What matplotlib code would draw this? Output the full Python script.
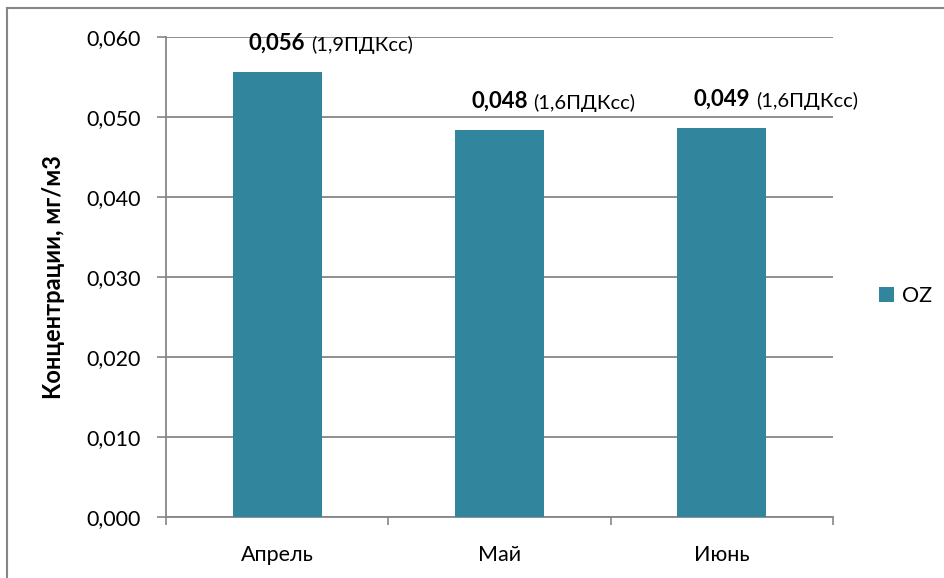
import matplotlib
matplotlib.use("Agg")
import matplotlib.pyplot as plt
from matplotlib.lines import Line2D

# monthly mean ozone concentrations, mg/m3
months = ["Апрель", "Май", "Июнь"]
oz_values = [0.0557, 0.0484, 0.0487]
pdk_notes = ["(1,9ПДКсс)", "(1,6ПДКсс)", "(1,6ПДКсс)"]
y_ticks = [0.000, 0.010, 0.020, 0.030, 0.040, 0.050, 0.060]

plt.rcParams["font.family"] = ["Lato", "DejaVu Sans"]

BAR = "#31859C"
GRID = "#868686"

fig = plt.figure(figsize=(9.45, 5.78), dpi=100)
ax = fig.add_axes([166 / 945, 1 - 517 / 578, (833 - 166) / 945, (517 - 37.3) / 578])

x = list(range(len(months)))
ax.bar(x, oz_values, width=0.4, color=BAR, label="OZ", zorder=3)

ax.set_xlim(-0.5, len(months) - 0.5)
ax.set_ylim(0, 0.060)
ax.set_yticks(y_ticks)
ax.set_yticklabels([f"{v:.3f}".replace(".", ",") for v in y_ticks], fontsize=15.5)
ax.set_xticks(x)
ax.set_xticklabels(months, fontsize=15.5)
ax.set_xticks([i - 0.5 for i in range(len(months) + 1)], minor=True)

ax.yaxis.grid(True, color=GRID, lw=1.3, zorder=0)
ax.tick_params(axis="y", length=6.5, width=1.2, color=GRID, pad=11.5)
ax.tick_params(axis="x", which="major", length=0, pad=20)
ax.tick_params(axis="x", which="minor", length=6, width=1.2, color=GRID)
for side in ("top", "right"):
    ax.spines[side].set_visible(False)
for side in ("left", "bottom"):
    ax.spines[side].set_color(GRID)
    ax.spines[side].set_linewidth(1.3)

ax.set_ylabel("Концентрации, мг/м3", fontsize=17, fontweight="bold")
ax.yaxis.set_label_coords(-0.152, 0.5)

# value labels: bold number centred on the bar, ПДК note right after it
for xi, v, note in zip(x, oz_values, pdk_notes):
    t = ax.annotate(f"{v:.3f}".replace(".", ","), xy=(xi, v), xytext=(0, 13),
                    textcoords="offset points", ha="center", va="bottom",
                    fontsize=16, fontweight="bold")
    ax.annotate(note, xy=(1, 0), xycoords=t, xytext=(4, 0),
                textcoords="offset points", ha="left", va="bottom", fontsize=14.5)

fig.legend(loc="center left", bbox_to_anchor=(879 / 945, 1 - 296 / 578),
           frameon=False, fontsize=15.5, handlelength=0.7, handleheight=0.7,
           handletextpad=0.35, borderpad=0, borderaxespad=0)

# chart-area border (top and left edges)
fig.add_artist(Line2D([7 / 945, 7 / 945], [0, 1 - 8 / 578],
                      transform=fig.transFigure, color=GRID, lw=1.5))
fig.add_artist(Line2D([7 / 945, 1], [1 - 8 / 578, 1 - 8 / 578],
                      transform=fig.transFigure, color=GRID, lw=1.5))

fig.savefig("out.png", dpi=100)
